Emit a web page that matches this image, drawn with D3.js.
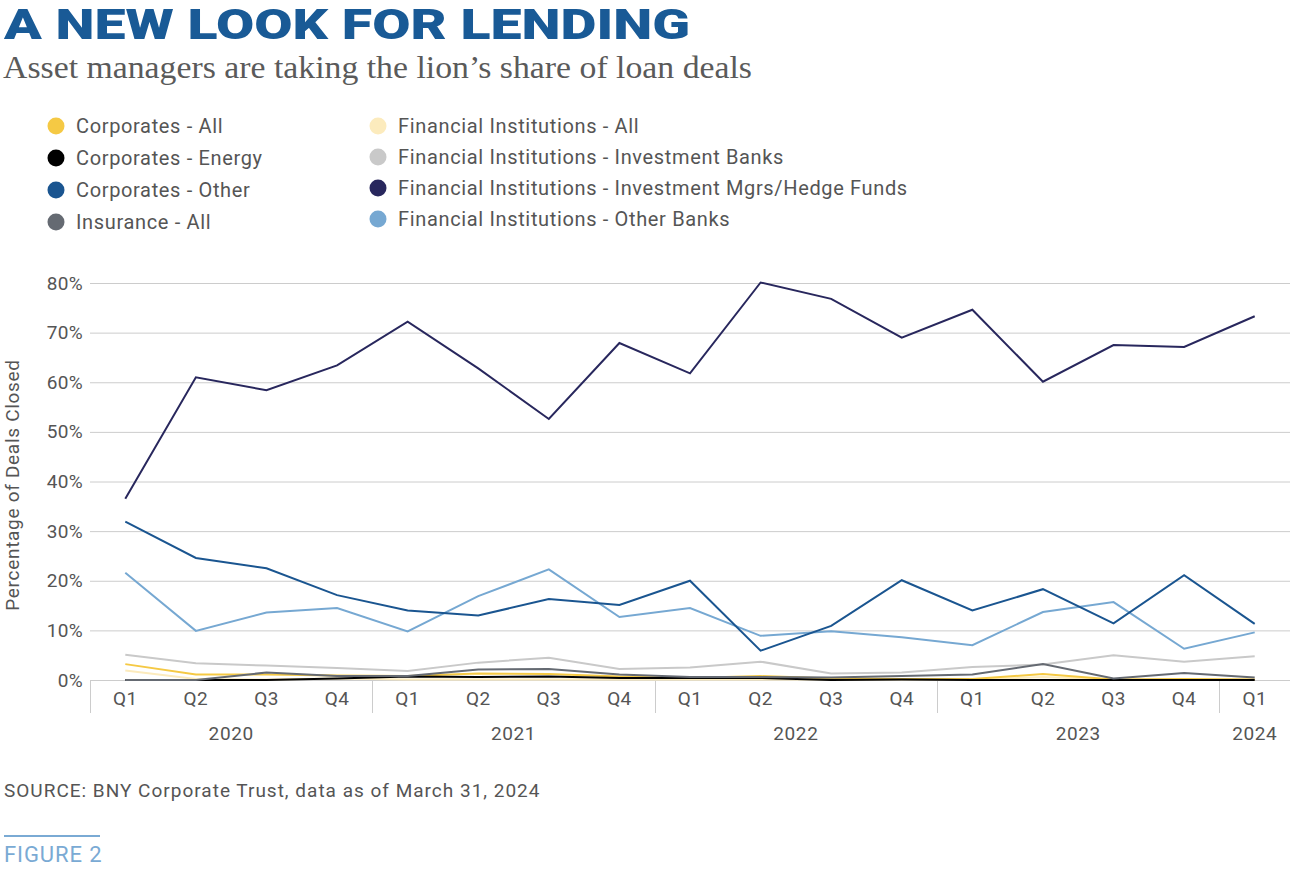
<!DOCTYPE html>
<html>
<head>
<meta charset="utf-8">
<script src="https://cdn.jsdelivr.net/npm/d3@7"></script>
<style>
  body { margin: 0; background: #fff; }
  svg { display: block; }
</style>
</head>
<body>
<svg id="chart"></svg>
<script>
// quarters on the x axis
let quarters = ["Q1","Q2","Q3","Q4","Q1","Q2","Q3","Q4","Q1","Q2","Q3","Q4","Q1","Q2","Q3","Q4","Q1"]
let years = ["2020", "2021", "2022", "2023", "2024"]
let yTicks = [0, 10, 20, 30, 40, 50, 60, 70, 80]

// percentage of deals closed
let corpAll    = [3.2, 1.1, 1.1, 0.9, 0.8, 1.3, 1.2, 0.7, 0.4, 0.8, 0.3, 0.2, 0.2, 1.2, 0.1, 0.2, 0.1]
let corpEnergy = [0, 0, 0, 0.3, 0.7, 0.6, 0.7, 0.4, 0.4, 0.4, 0, 0.1, 0, 0, 0, 0, 0]
let corpOther  = [31.9, 24.6, 22.5, 17.1, 14.0, 13.0, 16.3, 15.1, 20.0, 5.9, 10.9, 20.1, 14.0, 18.3, 11.4, 21.1, 11.3]
let insurance  = [0, 0, 1.5, 0.8, 0.8, 2.1, 2.2, 1.1, 0.6, 0.6, 0.5, 0.8, 1.1, 3.2, 0.3, 1.4, 0.5]
let fiAll      = [1.9, 0.2, 0.1, 0.3, 0.1, 0.1, 0.1, 0.1, 0.1, 0.1, 0.1, 0.1, 0.1, 0.6, 0.1, 0.1, 0.1]
let fiInvBanks = [5.1, 3.4, 2.9, 2.4, 1.8, 3.5, 4.5, 2.2, 2.5, 3.7, 1.3, 1.5, 2.6, 3.1, 5.0, 3.7, 4.8]
let fiInvMgrs  = [36.5, 61.0, 58.4, 63.4, 72.2, 62.8, 52.6, 67.9, 61.8, 80.1, 76.8, 69.0, 74.6, 60.1, 67.5, 67.1, 73.3]
let fiOther    = [21.6, 9.9, 13.6, 14.5, 9.8, 16.9, 22.3, 12.7, 14.5, 8.9, 9.8, 8.6, 7.0, 13.7, 15.7, 6.3, 9.6]

let seriesNames = ["Corporates - All", "Corporates - Energy", "Corporates - Other", "Insurance - All",
  "Financial Institutions - All", "Financial Institutions - Investment Banks",
  "Financial Institutions - Investment Mgrs/Hedge Funds", "Financial Institutions - Other Banks"]
let seriesValues = [corpAll, corpEnergy, corpOther, insurance, fiAll, fiInvBanks, fiInvMgrs, fiOther]
let seriesColors = ["#f5c944", "#000000", "#1a5590", "#656a72", "#fcebbd", "#c9c9c9", "#28275d", "#76a8d2"]
// order the lines are painted in (last is on top)
let drawOrder = [4, 5, 0, 1, 3, 7, 2, 6]

let width = 1309
let height = 881
let textColor = "#555555"

let svg = d3.select("#chart")
  .attr("width", width)
  .attr("height", height)

// titles
svg.append("text")
  .attr("x", 4).attr("y", 39)
  .attr("font-family", "Roboto").attr("font-weight", 900)
  .attr("font-size", 42)
  .attr("fill", "#195a96")
  .attr("textLength", 686).attr("lengthAdjust", "spacingAndGlyphs")
  .text("A NEW LOOK FOR LENDING")

svg.append("text")
  .attr("x", 3).attr("y", 78)
  .attr("font-family", "Liberation Serif")
  .attr("font-size", 32)
  .attr("fill", "#5a5a5a")
  .attr("textLength", 749).attr("lengthAdjust", "spacingAndGlyphs")
  .text("Asset managers are taking the lion\u2019s share of loan deals")

// legend, two columns
let legend = svg.append("g")
seriesNames.forEach(function(name, i) {
  let col = i < 4 ? 0 : 1
  let row = i % 4
  let cx = col === 0 ? 56 : 378
  let cy = col === 0 ? 126 + row * 32 : 126 + row * 31
  legend.append("circle")
    .attr("cx", cx).attr("cy", cy).attr("r", 8.5)
    .attr("fill", seriesColors[i])
  legend.append("text")
    .attr("x", cx + 20).attr("y", cy + 7)
    .attr("font-family", "Roboto").attr("font-size", 20)
    .attr("letter-spacing", 0.65)
    .attr("fill", textColor)
    .text(name)
})

// scales
let x = d3.scaleBand()
  .domain(d3.range(quarters.length))
  .range([90, 1290])

let y = d3.scaleLinear()
  .domain([0, 80])
  .range([680, 283])

let xc = function(i) { return x(i) + x.bandwidth() / 2 }

// gridlines + y labels
let yAxis = d3.axisLeft(y)
  .tickValues(yTicks)
  .tickSize(-(1290 - 90))
  .tickPadding(8)
  .tickFormat(function(d) { return d + "%" })

let gy = svg.append("g")
  .attr("transform", "translate(90,0)")
  .call(yAxis)
gy.select(".domain").remove()
gy.selectAll(".tick line").attr("stroke", "#cccccc").attr("stroke-width", 1)
gy.selectAll(".tick text")
  .attr("font-family", "Roboto").attr("font-size", 19)
  .attr("letter-spacing", 0.3)
  .attr("fill", textColor)
  .attr("x", -7)

svg.append("text")
  .attr("transform", "translate(19,485) rotate(-90)")
  .attr("text-anchor", "middle")
  .attr("font-family", "Roboto").attr("font-size", 19)
  .attr("letter-spacing", 0.7)
  .attr("fill", textColor)
  .text("Percentage of Deals Closed")

// x axis: quarter labels and year groups
let xAxis = d3.axisBottom(x)
  .tickSize(0)
  .tickPadding(12)
  .tickFormat(function(d) { return quarters[d] })

let gx = svg.append("g")
  .attr("transform", "translate(0,680)")
  .call(xAxis)
gx.select(".domain").remove()
gx.selectAll(".tick text")
  .attr("font-family", "Roboto").attr("font-size", 19)
  .attr("letter-spacing", 0.4)
  .attr("fill", textColor)

svg.append("line")
  .attr("x1", 90).attr("x2", 1290)
  .attr("y1", 680.5).attr("y2", 680.5)
  .attr("stroke", "#cccccc")

years.forEach(function(yr, k) {
  let start = k * 4
  let end = Math.min(start + 3, quarters.length - 1)
  let sx = Math.round(x(start)) + 0.5
  svg.append("line")
    .attr("x1", sx).attr("x2", sx)
    .attr("y1", 680).attr("y2", 713)
    .attr("stroke", "#cccccc")
  let mid = (x(start) + x(end) + x.bandwidth()) / 2
  if (k === years.length - 1) mid = xc(start)
  svg.append("text")
    .attr("x", mid).attr("y", 740)
    .attr("text-anchor", "middle")
    .attr("font-family", "Roboto").attr("font-size", 19)
    .attr("letter-spacing", 0.6)
    .attr("fill", textColor)
    .text(yr)
})

// the lines
let line = d3.line()
  .x(function(d, i) { return xc(i) })
  .y(function(d) { return y(d) })

drawOrder.forEach(function(s) {
  svg.append("path")
    .datum(seriesValues[s])
    .attr("d", line)
    .attr("fill", "none")
    .attr("stroke", seriesColors[s])
    .attr("stroke-width", 2)
    .attr("stroke-linejoin", "miter")
})

// footer
svg.append("text")
  .attr("x", 4).attr("y", 797)
  .attr("font-family", "Roboto").attr("font-size", 19)
  .attr("letter-spacing", 1.0)
  .attr("fill", textColor)
  .text("SOURCE: BNY Corporate Trust, data as of March 31, 2024")

svg.append("line")
  .attr("x1", 4).attr("x2", 100)
  .attr("y1", 836).attr("y2", 836)
  .attr("stroke", "#7aaad4").attr("stroke-width", 2)

svg.append("text")
  .attr("x", 4).attr("y", 862)
  .attr("font-family", "Roboto").attr("font-size", 22)
  .attr("letter-spacing", 0.9)
  .attr("fill", "#7aaad4")
  .text("FIGURE 2")
</script>
</body>
</html>
